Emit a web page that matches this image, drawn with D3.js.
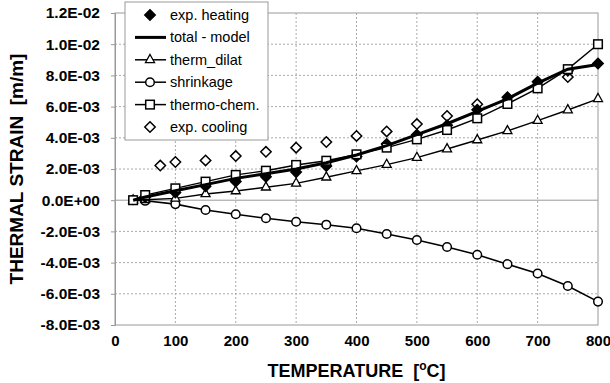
<!DOCTYPE html>
<html>
<head>
<meta charset="utf-8">
<script src="https://cdn.jsdelivr.net/npm/d3@7"></script>
<style>
  body { margin: 0; background: #fff; }
  svg { display: block; font-family: "Liberation Sans", Arial, sans-serif; }
</style>
</head>
<body>
<svg id="chart" width="610" height="383"></svg>
<script>
// Temperatures [°C] at which the model components are evaluated
const modelTemps = [30, 50, 100, 150, 200, 250, 300, 350, 400, 450, 500, 550, 600, 650, 700, 750, 800];
const thermDilat = [0, 0.00003, 0.00012, 0.0004, 0.00059, 0.00083, 0.00108, 0.00147, 0.00188, 0.00228, 0.00273, 0.00328, 0.00386, 0.00444, 0.0051, 0.00578, 0.0065];
const shrinkage  = [0, -0.00004, -0.00025, -0.00063, -0.0009, -0.00116, -0.00138, -0.00157, -0.0018, -0.00217, -0.00255, -0.003, -0.0035, -0.0041, -0.0047, -0.0055, -0.0065];
const thermoChem = [0, 0.00033, 0.00076, 0.00119, 0.00162, 0.00189, 0.00226, 0.00253, 0.00294, 0.00337, 0.0039, 0.0045, 0.00525, 0.00617, 0.00717, 0.0084, 0.01];
const totalModel = [0, 0.0002, 0.0006, 0.001, 0.0014, 0.0017, 0.002, 0.0024, 0.0029, 0.0035, 0.0042, 0.0049, 0.0057, 0.0065, 0.0075, 0.0084, 0.0087];

// Experimental measurements
const heatTemps = [50, 100, 150, 200, 250, 300, 350, 400, 450, 500, 550, 600, 650, 700, 750, 800];
const expHeating = [0.0002, 0.0005, 0.0009, 0.0012, 0.0015, 0.0018, 0.0022, 0.0028, 0.0036, 0.0042, 0.0048, 0.0058, 0.0066, 0.0076, 0.0083, 0.00877];
const coolTemps = [75, 100, 150, 200, 250, 300, 350, 400, 450, 500, 550, 600, 750];
const expCooling = [0.00222, 0.00245, 0.00255, 0.00283, 0.0031, 0.00337, 0.00373, 0.00412, 0.00441, 0.00488, 0.0054, 0.00615, 0.0079];

// Axis ticks
const yTicks = [-0.008, -0.006, -0.004, -0.002, 0, 0.002, 0.004, 0.006, 0.008, 0.01, 0.012];
const yTickLabels = ["-8.0E-03", "-6.0E-03", "-4.0E-03", "-2.0E-03", "0.0E+00", "2.0E-03", "4.0E-03", "6.0E-03", "8.0E-03", "1.0E-02", "1.2E-02"];
const xTicks = [0, 100, 200, 300, 400, 500, 600, 700, 800];

const legendLabels = ["exp. heating", "total - model", "therm_dilat", "shrinkage", "thermo-chem.", "exp. cooling"];

const W = 610, H = 383;
const margin = { left: 115, right: 12, top: 13, bottom: 58 };
const svg = d3.select("#chart");

const x = d3.scaleLinear().domain([0, 800]).range([margin.left, W - margin.right]);
const y = d3.scaleLinear().domain([-0.008, 0.012]).range([H - margin.bottom, margin.top]);

const g = svg.append("g");

// Grid
g.append("g").selectAll("line").data(xTicks.slice(1, -1)).join("line")
  .attr("x1", d => x(d)).attr("x2", d => x(d))
  .attr("y1", y(0.012)).attr("y2", y(-0.008))
  .attr("stroke", "#aaa").attr("stroke-width", 1).attr("stroke-dasharray", "2,2");
g.append("g").selectAll("line").data(yTicks.filter(d => d !== 0 && d !== -0.008 && d !== 0.012)).join("line")
  .attr("x1", x(0)).attr("x2", x(800))
  .attr("y1", d => y(d)).attr("y2", d => y(d))
  .attr("stroke", "#aaa").attr("stroke-width", 1).attr("stroke-dasharray", "2,2");
// Zero line
g.append("line")
  .attr("x1", x(0)).attr("x2", x(800)).attr("y1", y(0)).attr("y2", y(0))
  .attr("stroke", "#999").attr("stroke-width", 1);

// Frame
g.append("rect")
  .attr("x", x(0)).attr("y", y(0.012))
  .attr("width", x(800) - x(0)).attr("height", y(-0.008) - y(0.012))
  .attr("fill", "none").attr("stroke", "#999").attr("stroke-width", 1);

// Axes
const yAxis = d3.axisLeft(y).tickValues(yTicks)
  .tickFormat((d, i) => yTickLabels[i]).tickSize(4).tickPadding(11);
const ya = g.append("g").attr("transform", `translate(${x(0)},0)`).call(yAxis);
ya.select(".domain").attr("stroke", "#999");
ya.selectAll(".tick line").attr("stroke", "#999");
ya.selectAll("text").attr("font-size", 15.5).attr("font-weight", "bold")
  .attr("fill", "#000").attr("font-family", "Liberation Sans, Arial, sans-serif");

const xAxis = d3.axisBottom(x).tickValues(xTicks).tickSize(0).tickPadding(10);
const xa = g.append("g").attr("transform", `translate(0,${y(-0.008)})`).call(xAxis);
xa.select(".domain").remove();
xa.selectAll("text").attr("font-size", 15).attr("font-weight", "bold")
  .attr("fill", "#000").attr("font-family", "Liberation Sans, Arial, sans-serif");

// Axis titles
const xt = svg.append("text")
  .attr("x", (x(0) + x(800)) / 2).attr("y", 377)
  .attr("text-anchor", "middle").attr("font-size", 18).attr("font-weight", "bold");
xt.append("tspan").text("TEMPERATURE\u00a0 [");
xt.append("tspan").attr("font-size", 12).attr("dy", -7).text("o");
xt.append("tspan").attr("dy", 7).text("C]");

svg.append("text")
  .attr("transform", `translate(23,${(y(0.012) + y(-0.008)) / 2}) rotate(-90)`)
  .attr("text-anchor", "middle").attr("font-size", 19).attr("font-weight", "bold")
  .text("THERMAL STRAIN\u00a0 [m/m]");

// Series
const line = d3.line().x(d => x(d[0])).y(d => y(d[1]));
const zip = (a, b) => a.map((t, i) => [t, b[i]]);

const plot = g.append("g");

function triPath(s) {
  const h = s * 0.9;
  return `M0,${-h * 0.66}L${s / 2},${h * 0.34}L${-s / 2},${h * 0.34}Z`;
}
function diamondPath(s) { return `M0,${-s}L${s},0L0,${s}L${-s},0Z`; }

function drawMarkers(sel, data, shape, fill) {
  const m = sel.append("g").selectAll("g").data(data).join("g")
    .attr("transform", d => `translate(${x(d[0])},${y(d[1])})`);
  if (shape === "circle") {
    m.append("circle").attr("r", 4.3).attr("fill", fill).attr("stroke", "#000").attr("stroke-width", 1.5);
  } else if (shape === "square") {
    m.append("rect").attr("x", -4.3).attr("y", -4.3).attr("width", 8.6).attr("height", 8.6)
      .attr("fill", fill).attr("stroke", "#000").attr("stroke-width", 1.5);
  } else if (shape === "triangle") {
    m.append("path").attr("d", triPath(9)).attr("fill", fill).attr("stroke", "#000").attr("stroke-width", 1.3);
  } else if (shape === "diamond") {
    m.append("path").attr("d", diamondPath(5.2)).attr("fill", fill).attr("stroke", "#000").attr("stroke-width", 1.5);
  }
}

// exp. cooling (open diamonds)
drawMarkers(plot, zip(coolTemps, expCooling), "diamond", "#fff");

// shrinkage
plot.append("path").datum(zip(modelTemps, shrinkage)).attr("d", line)
  .attr("fill", "none").attr("stroke", "#000").attr("stroke-width", 1.6);
drawMarkers(plot, zip(modelTemps, shrinkage), "circle", "#fff");

// therm_dilat
plot.append("path").datum(zip(modelTemps, thermDilat)).attr("d", line)
  .attr("fill", "none").attr("stroke", "#000").attr("stroke-width", 1.4);
drawMarkers(plot, zip(modelTemps, thermDilat), "triangle", "#fff");

// exp. heating (filled diamonds)
drawMarkers(plot, zip(heatTemps, expHeating), "diamond", "#000");

// thermo-chem.
plot.append("path").datum(zip(modelTemps, thermoChem)).attr("d", line)
  .attr("fill", "none").attr("stroke", "#000").attr("stroke-width", 1.4);
drawMarkers(plot, zip(modelTemps, thermoChem), "square", "#fff");

// total - model
plot.append("path").datum(zip(modelTemps, totalModel)).attr("d", line)
  .attr("fill", "none").attr("stroke", "#000").attr("stroke-width", 3);

// Legend
const lg = svg.append("g");
lg.append("rect").attr("x", 125).attr("y", 2).attr("width", 143).attr("height", 138)
  .attr("fill", "#fff").attr("stroke", "#999").attr("stroke-width", 1);
const rowY = i => 15 + i * 22.4;
const sx = 150;
legendLabels.forEach((lab, i) => {
  const yy = rowY(i);
  const row = lg.append("g");
  if (i >= 1 && i <= 4) {
    row.append("line").attr("x1", 135).attr("x2", 166).attr("y1", yy).attr("y2", yy)
      .attr("stroke", "#000").attr("stroke-width", i === 1 ? 3 : 1.5);
  }
  const mg = row.append("g").attr("transform", `translate(${sx},${yy})`);
  if (i === 0) mg.append("path").attr("d", diamondPath(5.2)).attr("fill", "#000").attr("stroke", "#000").attr("stroke-width", 1.5);
  if (i === 2) mg.append("path").attr("d", triPath(9)).attr("fill", "#fff").attr("stroke", "#000").attr("stroke-width", 1.3);
  if (i === 3) mg.append("circle").attr("r", 4.3).attr("fill", "#fff").attr("stroke", "#000").attr("stroke-width", 1.5);
  if (i === 4) mg.append("rect").attr("x", -4.3).attr("y", -4.3).attr("width", 8.6).attr("height", 8.6).attr("fill", "#fff").attr("stroke", "#000").attr("stroke-width", 1.5);
  if (i === 5) mg.append("path").attr("d", diamondPath(5.2)).attr("fill", "#fff").attr("stroke", "#000").attr("stroke-width", 1.5);
  row.append("text").attr("x", 170).attr("y", yy + 5).attr("font-size", 14.5).attr("fill", "#000").text(lab);
});
</script>
</body>
</html>
